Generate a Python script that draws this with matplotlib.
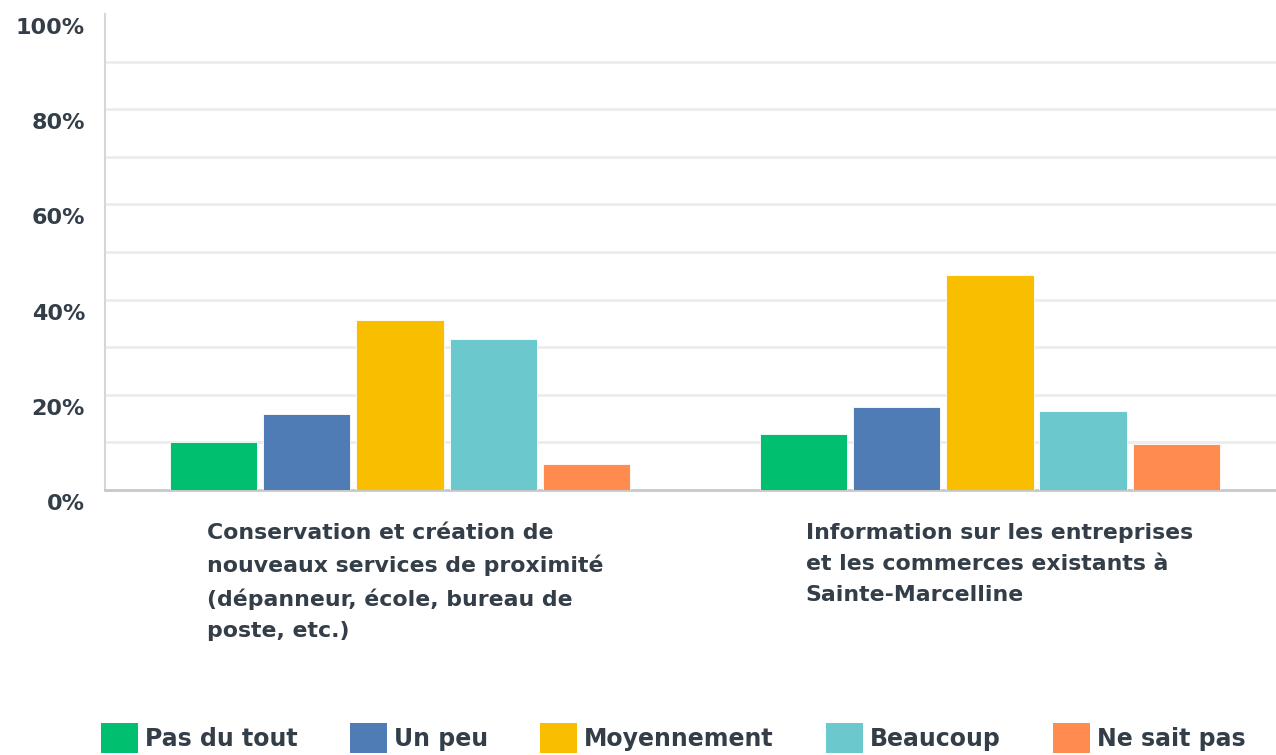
import matplotlib
matplotlib.use("Agg")
import matplotlib.pyplot as plt
import matplotlib.transforms as mtransforms
from matplotlib.patches import Patch
import numpy as np

# data
categories = [
    "Conservation et création de\nnouveaux services de proximité\n(dépanneur, école, bureau de\nposte, etc.)",
    "Information sur les entreprises\net les commerces existants à\nSainte-Marcelline",
]
series = ["Pas du tout", "Un peu", "Moyennement", "Beaucoup", "Ne sait pas"]
pas_du_tout = [10.0, 11.8]
un_peu = [16.0, 17.4]
moyennement = [35.8, 45.1]
beaucoup = [31.7, 16.5]
ne_sait_pas = [5.4, 9.6]
values = [pas_du_tout, un_peu, moyennement, beaucoup, ne_sait_pas]
colors = ["#00bf6f", "#507cb6", "#f9be00", "#6bc8cd", "#ff8b4f"]
yticks = [0, 20, 40, 60, 80, 100]
ytick_labels = ["0%", "20%", "40%", "60%", "80%", "100%"]

txt = "#333e48"
plt.rcParams["font.family"] = ["DejaVu Sans"]

fig = plt.figure(figsize=(12.76, 7.55), dpi=100)
ax = fig.add_axes([105 / 1276, 1 - 490 / 755, 1 - 105 / 1276, (490 - 14) / 755])

x = np.arange(len(categories))
step = 0.158
width = 0.148
for i, (name, vals, c) in enumerate(zip(series, values, colors)):
    ax.bar(x + (i - 2) * step, vals, width, color=c, label=name,
           edgecolor="white", linewidth=0.6, zorder=3)

ax.set_xlim(-0.5, 1.485)
ax.set_ylim(0, 100)
for g in range(10, 100, 10):
    ax.axhline(g, color="#ececec", lw=2, zorder=1)

ax.set_xticks([])
ax.set_yticks(yticks)
ax.set_yticklabels(ytick_labels, fontsize=16, fontweight="bold", color=txt)
ax.tick_params(axis="y", length=0, pad=14.4)
off = mtransforms.ScaledTranslation(0, -12 / 100, fig.dpi_scale_trans)
for lab in ax.get_yticklabels():
    lab.set_transform(lab.get_transform() + off)

for s in ["top", "right"]:
    ax.spines[s].set_visible(False)
ax.spines["left"].set_color("#d6d6d6")
ax.spines["left"].set_linewidth(1.5)
ax.spines["bottom"].set_color("#c8c8c8")
ax.spines["bottom"].set_linewidth(2)

label_x = [-0.327, 1 - 0.312]
for lx, cat in zip(label_x, categories):
    ax.text(lx, -6.9, cat, ha="left", va="top", fontsize=15.8,
            fontweight="bold", color=txt, linespacing=1.68)

handles = [Patch(facecolor=c, label=s) for s, c in zip(series, colors)]
leg = fig.legend(handles=handles, loc="upper left",
                 bbox_to_anchor=(101 / 1276, 1 - 723 / 755),
                 ncol=5, frameon=False, borderpad=0, borderaxespad=0,
                 handlelength=1.57, handleheight=1.57,
                 handletextpad=0.3, columnspacing=2.2,
                 prop={"size": 17, "weight": "bold"})
for t in leg.get_texts():
    t.set_color(txt)

fig.savefig("out.png", dpi=100, facecolor="white")
